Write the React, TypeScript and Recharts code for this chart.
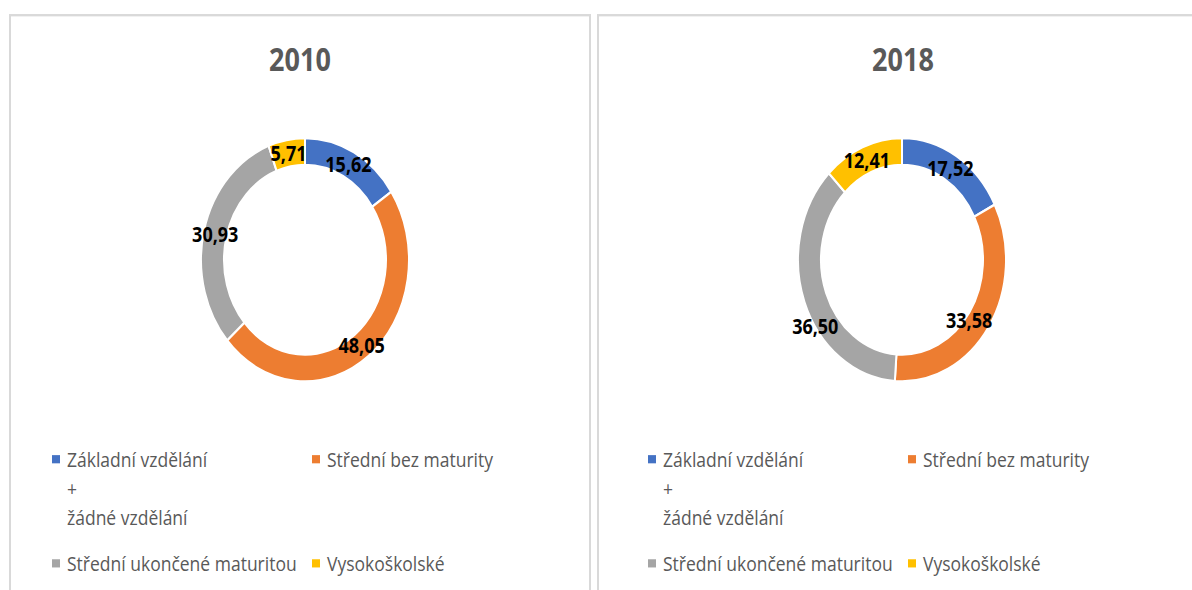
import { PieChart, Pie, Cell } from 'recharts'

const CATEGORIES = [
  'Základní vzdělání + žádné vzdělání',
  'Střední bez maturity',
  'Střední ukončené maturitou',
  'Vysokoškolské',
]
const COLORS = ['#4472C4', '#ED7D31', '#A5A5A5', '#FFC000']
const YEARS = ['2010', '2018']
const VALUES_2010 = [15.62, 48.05, 30.93, 5.71]
const VALUES_2018 = [17.52, 33.58, 36.5, 12.41]

// the source picture is stretched vertically, so everything is drawn flat and scaled
const STRETCH = 1.17
const FONT = '"Open Sans", "Noto Sans", sans-serif'
const TEXT = '#595959'
const BORDER = '#d9d9d9'

// excel moved a couple of its labels off the ring centre line (px, before stretch)
const NUDGE_2010 = [[0, 0], [0, 0], [0, 0], [0, 0]]
const NUDGE_2018 = [[0, 0], [-10, 0], [0, 24], [0, 0]]

const RAD = Math.PI / 180

const fmt = (v: number) => v.toFixed(2).replace('.', ',')

const makeLabel = (nudge: number[][]) => (props: any) => {
  const { cx, cy, midAngle, innerRadius, outerRadius, value, index } = props
  const r = (innerRadius + outerRadius) / 2
  const [dx, dy] = nudge[index] || [0, 0]
  const x = cx + r * Math.cos(-midAngle * RAD) + dx
  const y = cy + r * Math.sin(-midAngle * RAD) + dy
  return (
    <text x={x} y={y} textAnchor="middle" dominantBaseline="central"
      fontFamily={FONT} fontSize={18} fontWeight={700} fill="#000">
      {fmt(value)}
    </text>
  )
}

function LegendItem({ color, lines }: { color: string; lines: string[] }) {
  return (
    <div style={{ display: 'flex', alignItems: 'flex-start' }}>
      <span style={{ width: 8, height: 7, background: color, marginTop: 9, marginRight: 7, flexShrink: 0 }} />
      <div>
        {lines.map((l, i) => (
          <div key={i} style={{ height: 25, lineHeight: '25px', whiteSpace: 'nowrap' }}>{l}</div>
        ))}
      </div>
    </div>
  )
}

function Panel({ left, width, year, values, cx, legendLeft, nudge }: {
  left: number; width: number; year: string; values: number[]; cx: number; legendLeft: number; nudge: number[][]
}) {
  const data = CATEGORIES.map((name, i) => ({ name, value: values[i] }))
  const split = (s: string) => {
    const parts = s.split(' + ')
    return parts.length > 1 ? [parts[0], '+', parts[1]] : [s]
  }
  return (
    <div style={{
      position: 'absolute', left, top: 12, width, height: 520,
      border: `2px solid ${BORDER}`, boxSizing: 'border-box', fontFamily: FONT,
    }}>
      <div style={{
        position: 'absolute', left: 0, top: 18, width: width - 4, textAlign: 'center',
        fontSize: 27, fontWeight: 700, color: TEXT, lineHeight: '38px',
      }}>
        {year}
      </div>
      <div style={{ position: 'absolute', left: 0, top: 0 }}>
        <PieChart width={width - 4} height={340} margin={{ top: 0, right: 0, bottom: 0, left: 0 }}>
          <Pie data={data} dataKey="value" nameKey="name" cx={cx} cy={208}
            innerRadius={81} outerRadius={104} startAngle={90} endAngle={-270}
            stroke="#fff" strokeWidth={2} label={makeLabel(nudge)} labelLine={false}
            isAnimationActive={false}>
            {data.map((d, i) => <Cell key={d.name} fill={COLORS[i]} />)}
          </Pie>
        </PieChart>
      </div>
      <div style={{
        position: 'absolute', left: legendLeft, top: 366, fontSize: 17.5, color: TEXT,
        display: 'grid', gridTemplateColumns: '260px 260px', rowGap: 14,
      }}>
        {CATEGORIES.map((c, i) => <LegendItem key={c} color={COLORS[i]} lines={split(c)} />)}
      </div>
    </div>
  )
}

export default function App() {
  return (
    <div style={{ position: 'fixed', left: 0, top: 0, width: 1192, height: 590, overflow: 'hidden', background: '#fff' }}>
      <div style={{
        position: 'absolute', left: 0, top: 0, width: 1192, height: 590 / STRETCH,
        transform: `scaleY(${STRETCH})`, transformOrigin: 'top left',
      }}>
        <Panel left={9} width={582} year={YEARS[0]} values={VALUES_2010} cx={294} legendLeft={41} nudge={NUDGE_2010} />
        <Panel left={597} width={612} year={YEARS[1]} values={VALUES_2018} cx={303} legendLeft={49} nudge={NUDGE_2018} />
      </div>
    </div>
  )
}
